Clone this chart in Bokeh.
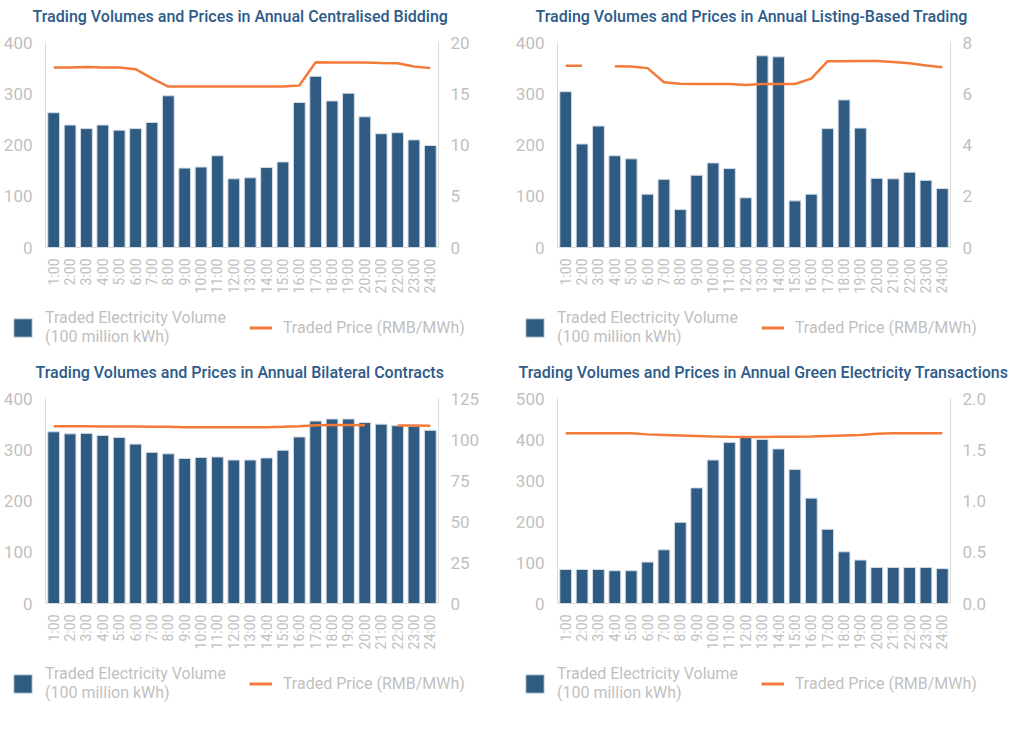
import math
from bokeh.plotting import figure
from bokeh.models import (Range1d, LinearAxis, FactorRange, Legend, LegendItem,
                          SingleIntervalTicker, PrintfTickFormatter, ColumnDataSource)
from bokeh.layouts import row, column
from bokeh.embed import file_html
from bokeh.resources import INLINE

nan = float("nan")

hours = ["1:00", "2:00", "3:00", "4:00", "5:00", "6:00", "7:00", "8:00",
         "9:00", "10:00", "11:00", "12:00", "13:00", "14:00", "15:00", "16:00",
         "17:00", "18:00", "19:00", "20:00", "21:00", "22:00", "23:00", "24:00"]

volume_label = "Traded Electricity Volume\n(100 million kWh)"
price_label = "Traded Price (RMB/MWh)"

cb_title = "Trading Volumes and Prices in Annual Centralised Bidding"
cb_volume = [263, 239, 232, 239, 229, 232, 244, 296, 155, 157, 179, 134,
             136, 156, 167, 283, 334, 286, 301, 255, 222, 224, 210, 199]
cb_price = [17.55, 17.55, 17.6, 17.55, 17.55, 17.4, 16.5, 15.7, 15.7, 15.7, 15.7, 15.7,
            15.7, 15.7, 15.7, 15.8, 18.07, 18.05, 18.05, 18.05, 18.0, 17.98, 17.65, 17.5]

lb_title = "Trading Volumes and Prices in Annual Listing-Based Trading"
lb_volume = [304, 202, 237, 179, 173, 104, 133, 74, 141, 165, 154, 97,
             374, 372, 91, 104, 232, 288, 233, 135, 134, 147, 131, 115]
lb_price = [7.09, 7.09, nan, 7.07, 7.06, 7.0, 6.45, 6.39, 6.38, 6.38, 6.38, 6.34,
            6.38, 6.38, 6.38, 6.59, 7.27, 7.27, 7.28, 7.28, 7.24, 7.19, 7.1, 7.03]

bc_title = "Trading Volumes and Prices in Annual Bilateral Contracts"
bc_volume = [335, 331, 332, 328, 324, 311, 295, 292, 283, 285, 286, 280,
             280, 284, 299, 325, 356, 360, 360, 353, 350, 347, 346, 338]
bc_price = [108.1, 108.1, 108.1, 108.0, 108.0, 107.9, 107.8, 107.7, 107.5, 107.5, 107.5, 107.5,
            107.5, 107.5, 107.7, 108.1, 108.7, 108.9, 108.9, 108.7, nan, 108.5, 108.5, 108.4]

ge_title = "Trading Volumes and Prices in Annual Green Electricity Transactions"
ge_volume = [83, 83, 83, 80, 80, 101, 131, 198, 282, 350, 393, 407,
             400, 377, 327, 257, 181, 126, 106, 88, 88, 88, 88, 85]
ge_price = [1.66, 1.66, 1.66, 1.66, 1.66, 1.65, 1.645, 1.64, 1.635, 1.63, 1.627, 1.625,
            1.625, 1.627, 1.628, 1.63, 1.635, 1.64, 1.645, 1.655, 1.66, 1.66, 1.66, 1.66]

BAR = "#2F5A82"
BAR_EDGE = "#D5DDE6"
ORANGE = "#F47A3A"
TITLE_C = "#2E5C8A"
GREY = "#BFBFBF"
AXIS_C = "#D9D9D9"
FONT = "Roboto"
TFONT = "Roboto Medium"

TITLE_H = 34
CHART_H = 266
LEG_H = 56


def style_axis(ax):
    ax.axis_line_color = AXIS_C
    ax.major_tick_line_color = None
    ax.minor_tick_line_color = None
    ax.major_label_text_color = GREY
    ax.major_label_text_font = FONT


def panel(title, volume, price, vmax, vstep, pmax, pstep, pfmt, width, title_left):
    # title strip
    tf = figure(width=width, height=TITLE_H, x_axis_type=None, y_axis_type=None,
                output_backend="svg", toolbar_location=None, min_border=0,
                outline_line_color=None, frame_align=False)
    tf.grid.visible = False
    tf.title.text = title
    tf.title.text_font = TFONT
    tf.title.text_font_size = "16px"
    tf.title.text_color = TITLE_C
    tf.title.text_font_style = "normal"
    tf.title.align = "left"
    tf.title.offset = title_left
    tf.title.vertical_align = "bottom"
    tf.title.standoff = 8

    p = figure(width=width, height=CHART_H,
               x_range=FactorRange(factors=hours, range_padding=0),
               y_range=Range1d(0, vmax), output_backend="svg", toolbar_location=None,
               min_border_left=34, min_border_right=width - 438, min_border_top=42 - TITLE_H,
               min_border_bottom=CHART_H - (247 - TITLE_H), frame_align=False)
    p.extra_y_ranges = {"price": Range1d(0, pmax)}
    p.outline_line_color = None
    p.grid.visible = False

    src = ColumnDataSource(dict(hour=hours, volume=volume, price=price))
    p.vbar(x="hour", top="volume", width=0.72, source=src, fill_color=BAR,
           line_color=BAR_EDGE, line_width=1)
    p.line(x="hour", y="price", source=src, y_range_name="price",
           line_color=ORANGE, line_width=2.5)

    p.yaxis.ticker = SingleIntervalTicker(interval=vstep)
    style_axis(p.yaxis[0])
    p.yaxis.major_label_text_font_size = "17px"
    p.yaxis.major_label_standoff = 7

    rax = LinearAxis(y_range_name="price", ticker=SingleIntervalTicker(interval=pstep))
    if pfmt:
        rax.formatter = PrintfTickFormatter(format=pfmt)
    style_axis(rax)
    rax.major_label_text_font_size = "17px"
    rax.major_label_standoff = 6
    p.add_layout(rax, "right")

    style_axis(p.xaxis[0])
    p.xaxis.major_label_orientation = math.pi / 2
    p.xaxis.major_label_text_font_size = "14px"
    p.xaxis.major_label_standoff = 5

    # legend strip below the chart (renderers share the chart's data, hidden)
    lf = figure(width=width, height=LEG_H, x_axis_type=None, y_axis_type=None,
                x_range=FactorRange(factors=hours), y_range=Range1d(0, vmax),
                output_backend="svg", toolbar_location=None,
                min_border=0, outline_line_color=None, frame_align=False)
    lf.grid.visible = False
    b = lf.vbar(x="hour", top="volume", width=0.72, source=src, fill_color=BAR,
                line_color=BAR_EDGE, line_width=1, visible=False)
    l = lf.line(x="hour", y="volume", source=src, line_color=ORANGE, line_width=3,
                visible=False)
    leg = Legend(items=[LegendItem(label=volume_label, renderers=[b]),
                        LegendItem(label=price_label, renderers=[l])],
                 orientation="horizontal", location=(11, 10), click_policy="none",
                 glyph_width=23, glyph_height=23, label_standoff=11, spacing=23,
                 padding=0, margin=0, border_line_color=None, background_fill_alpha=0,
                 label_text_font=FONT, label_text_font_size="16px", label_text_color=GREY)
    lf.add_layout(leg, "center")
    return column(tf, p, lf, spacing=0)


c1 = panel(cb_title, cb_volume, cb_price, 400, 100, 20, 5, None, 512, 32)
c2 = panel(lb_title, lb_volume, lb_price, 400, 100, 8, 2, None, 504, 23)
c3 = panel(bc_title, bc_volume, bc_price, 400, 100, 125, 25, None, 512, 35)
c4 = panel(ge_title, ge_volume, ge_price, 500, 100, 2.0, 0.5, "%.1f", 504, 6)

layout = column(row(c1, c2, spacing=0), row(c3, c4, spacing=0), spacing=0)
open("out.html", "w").write(file_html(layout, INLINE))
